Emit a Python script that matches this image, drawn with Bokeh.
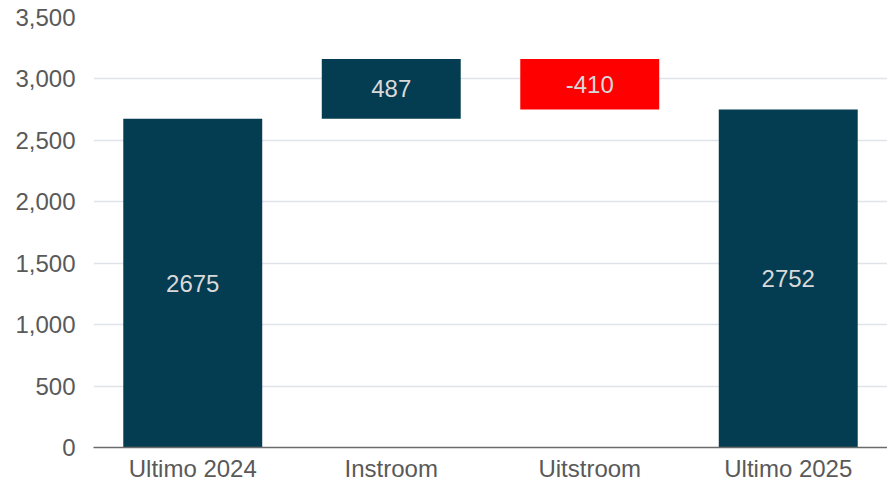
from bokeh.plotting import figure
from bokeh.models import FactorRange, Range1d, ColumnDataSource, NumeralTickFormatter, FixedTicker
from bokeh.core.properties import value
from bokeh.embed import file_html
from bokeh.resources import INLINE

categories = ["Ultimo 2024", "Instroom", "Uitstroom", "Ultimo 2025"]
changes = [2675, 487, -410, 2752]
kinds = ["total", "delta", "delta", "total"]
y_ticks = [0, 500, 1000, 1500, 2000, 2500, 3000, 3500]

bottoms, tops, colors, labels, mids = [], [], [], [], []
running = 0
for c, k in zip(changes, kinds):
    if k == "total":
        b, t = 0, c
        running = c
    else:
        b, t = running, running + c
        running = t
    bottoms.append(min(b, t))
    tops.append(max(b, t))
    colors.append("#FF0000" if c < 0 else "#043C52")
    labels.append(str(c))
    mids.append((b + t) / 2)

src = ColumnDataSource(dict(x=categories, bottom=bottoms, top=tops, color=colors, label=labels, mid=mids))

FONT = "Liberation Sans"
p = figure(x_range=FactorRange(*categories, range_padding=0), y_range=Range1d(0, 3500),
           width=887, height=484, output_backend="svg", toolbar_location=None,
           min_border_left=93, min_border_right=0, min_border_top=17, min_border_bottom=30)
p.outline_line_color = None
p.background_fill_color = "white"
p.border_fill_color = "white"

p.vbar(x="x", bottom="bottom", top="top", width=0.7, color="color", line_color=None, source=src)
p.text(x="x", y="mid", text="label", source=src, text_align="center", text_baseline="middle",
       text_font=value(FONT), text_font_size="24px", text_color="#D9D9D9")

p.xgrid.grid_line_color = None
p.ygrid.grid_line_color = "#E0E3E8"
p.ygrid.grid_line_width = 1.5
p.yaxis.ticker = FixedTicker(ticks=y_ticks)
p.yaxis.formatter = NumeralTickFormatter(format="0,0")
p.yaxis.axis_line_color = None
p.yaxis.major_tick_line_color = None
p.yaxis.minor_tick_line_color = None
p.yaxis.major_label_text_font = FONT
p.yaxis.major_label_text_font_size = "24px"
p.yaxis.major_label_text_color = "#595959"
p.yaxis.major_label_standoff = 12

p.xaxis.axis_line_color = "#6B6B6B"
p.xaxis.axis_line_width = 1.5
p.xaxis.major_tick_line_color = None
p.xaxis.minor_tick_line_color = None
p.xaxis.major_label_text_font = FONT
p.xaxis.major_label_text_font_size = "24px"
p.xaxis.major_label_text_color = "#595959"
p.xaxis.major_label_standoff = 1

open("out.html", "w").write(file_html(p, INLINE))
